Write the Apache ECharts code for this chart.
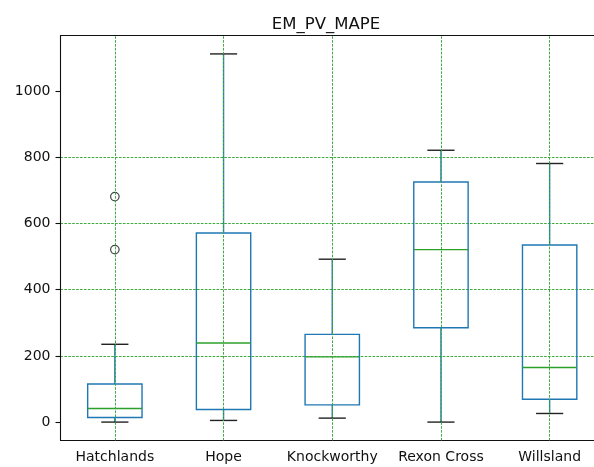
<!DOCTYPE html>
<html>
<head>
<meta charset="utf-8">
<script src="https://cdn.jsdelivr.net/npm/echarts@6/dist/echarts.min.js"></script>
<style>
  html, body { margin: 0; padding: 0; background: #fff; overflow: hidden; }
  #chart { width: 594px; height: 467px; overflow: hidden; }
</style>
</head>
<body>
<div id="chart"></div>
<script>
// Box plot summary per site: whisker low, Q1, median, Q3, whisker high
const sites = ['Hatchlands', 'Hope', 'Knockworthy', 'Rexon Cross', 'Willsland'];
const whiskerLow  = [0,   5,    12,  0,   26];
const q1          = [14,  38,   52,  285, 69];
const median      = [41,  239,  197, 521, 165];
const q3          = [115, 571,  265, 725, 535];
const whiskerHigh = [235, 1112, 492, 821, 781];
// Points beyond the whiskers: [site index, value]
const outliers = [[0, 681], [0, 521]];
const yTicks = [0, 200, 400, 600, 800, 1000];

const allValues = whiskerLow.concat(whiskerHigh, outliers.map(o => o[1]));
const dataMin = Math.min(...allValues);
const dataMax = Math.max(...allValues);
const pad = (dataMax - dataMin) * 0.05;

const boxData = sites.map((s, i) => [i, whiskerLow[i], q1[i], median[i], q3[i], whiskerHigh[i]]);

const FONT = 'DejaVu Sans';
const BLUE = '#1f77b4';
const GREEN = '#2ca02c';
const gridDash = { color: 'rgb(60,170,60)', width: 1, type: [2.6, 1.3] };
const frame = { color: '#111', width: 1.1 };

const chart = echarts.init(document.getElementById('chart'), null, { renderer: 'canvas' });

chart.setOption({
  animation: false,
  backgroundColor: '#fff',
  title: {
    text: 'EM_PV_MAPE',
    left: 321,
    textAlign: 'center',
    top: 11,
    textStyle: { fontFamily: FONT, fontSize: 16.5, fontWeight: 'normal', color: '#111' }
  },
  grid: {
    left: 60.5, right: -10, top: 35.5, bottom: 26.5,
    outerBoundsMode: 'none',
    containLabel: false,
    show: false
  },
  xAxis: [
    {
      type: 'category',
      data: sites,
      boundaryGap: true,
      axisLine: { onZero: false, lineStyle: frame },
      axisTick: { alignWithLabel: true, length: 5, lineStyle: frame },
      axisLabel: { fontFamily: FONT, fontSize: 14, color: '#111', margin: 10, interval: 0 },
      splitLine: { show: false }
    },
    {
      // top frame line
      type: 'category',
      data: sites,
      position: 'top',
      boundaryGap: true,
      axisLine: { onZero: false, lineStyle: frame },
      axisTick: { show: false },
      axisLabel: { show: false },
      splitLine: { show: false }
    }
  ],
  yAxis: {
    type: 'value',
    min: dataMin - pad,
    max: dataMax + pad,
    axisLine: { show: true, onZero: false, lineStyle: frame },
    axisTick: { show: true, length: 5, lineStyle: frame, customValues: yTicks },
    axisLabel: {
      fontFamily: FONT, fontSize: 14, color: '#111', margin: 10, customValues: yTicks,
      formatter: v => String(Math.round(v))
    },
    splitLine: { show: true, showMinLine: false, showMaxLine: false, lineStyle: gridDash }
  },
  series: [
    {
      // vertical grid lines at each category, kept under the boxes
      type: 'scatter',
      name: 'xgrid',
      data: [],
      z: 1,
      silent: true,
      markLine: {
        silent: true,
        symbol: ['none', 'none'],
        label: { show: false },
        lineStyle: gridDash,
        data: sites.map((s, i) => ({ xAxis: i }))
      }
    },
    {
      type: 'custom',
      name: 'boxes',
      data: boxData,
      z: 3,
      renderItem: function (params, api) {
        const idx = api.value(0);
        const band = api.size([1, 0])[0];
        const cx = api.coord([idx, 0])[0];
        const y = v => api.coord([idx, v])[1];
        const boxW = band * 0.5;
        const capW = band * 0.25;
        const lo = y(api.value(1)), b1 = y(api.value(2)), md = y(api.value(3)),
              b3 = y(api.value(4)), hi = y(api.value(5));
        const blueLine = { stroke: BLUE, lineWidth: 1.4, fill: null };
        const black = { stroke: '#222', lineWidth: 1.4 };
        return {
          type: 'group',
          children: [
            { type: 'line', shape: { x1: cx, y1: b1, x2: cx, y2: lo }, style: blueLine },
            { type: 'line', shape: { x1: cx, y1: b3, x2: cx, y2: hi }, style: blueLine },
            { type: 'line', shape: { x1: cx - capW / 2, y1: lo, x2: cx + capW / 2, y2: lo }, style: black },
            { type: 'line', shape: { x1: cx - capW / 2, y1: hi, x2: cx + capW / 2, y2: hi }, style: black },
            { type: 'rect', shape: { x: cx - boxW / 2, y: b3, width: boxW, height: b1 - b3 }, style: blueLine },
            { type: 'line', shape: { x1: cx - boxW / 2, y1: md, x2: cx + boxW / 2, y2: md }, style: { stroke: GREEN, lineWidth: 1.4 } }
          ]
        };
      }
    },
    {
      type: 'scatter',
      name: 'outliers',
      data: outliers,
      z: 4,
      symbol: 'circle',
      symbolSize: 8.5,
      itemStyle: { color: 'rgba(0,0,0,0)', borderColor: '#111', borderWidth: 1.2 }
    }
  ]
});
</script>
</body>
</html>
